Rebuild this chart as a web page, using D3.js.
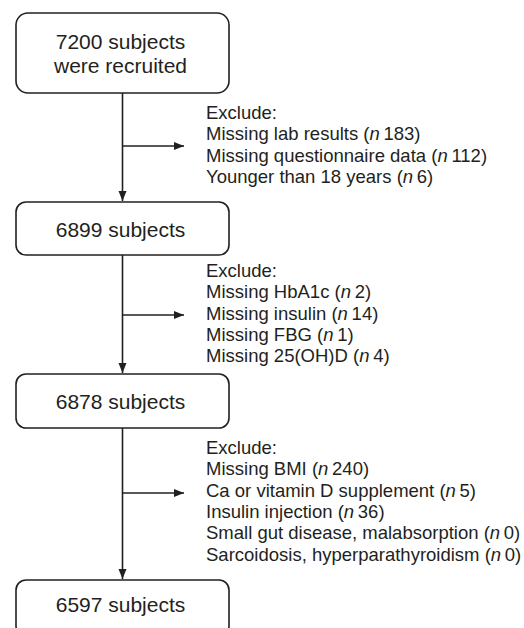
<!DOCTYPE html>
<html><head><meta charset="utf-8">
<script src="https://cdn.jsdelivr.net/npm/d3@7"></script>
<style>body{margin:0;background:#fff}svg{display:block}</style>
</head><body>
<svg id="c" width="524" height="628"></svg>
<script>
// Data
const boxLabels = [["7200 subjects", "were recruited"], ["6899 subjects"], ["6878 subjects"], ["6597 subjects"]];
const exclusionGroups = [
  [["Missing lab results", "183"], ["Missing questionnaire data", "112"], ["Younger than 18 years", "6"]],
  [["Missing HbA1c", "2"], ["Missing insulin", "14"], ["Missing FBG", "1"], ["Missing 25(OH)D", "4"]],
  [["Missing BMI", "240"], ["Ca or vitamin D supplement", "5"], ["Insulin injection", "36"], ["Small gut disease, malabsorption", "0"], ["Sarcoidosis, hyperparathyroidism", "0"]]
];
const excludeHeader = "Exclude:";

// Layout
const svg = d3.select("#c");
const ink = "#231f20";
const boxTop = [13, 202, 374, 580];
const boxH = [80, 53, 54, 56];
const boxX0 = 16, boxX1 = 229, cx = 122.5, textCx = 120.5;
const branchY = [146, 315, 493];
const headerY = [119, 277, 454];
const lineStep = 21.3;
const textX = 206;
const fontFam = "'Liberation Sans', Arial, Helvetica, sans-serif";

const defs = svg.append("defs");
defs.append("marker").attr("id", "ah").attr("viewBox", "0 0 10 10")
  .attr("refX", 10).attr("refY", 5).attr("markerWidth", 10).attr("markerHeight", 10)
  .attr("markerUnits", "userSpaceOnUse").attr("orient", "auto")
  .append("path").attr("d", "M0,1 L10,5 L0,9 Z").attr("fill", ink);

// Boxes
const boxes = svg.selectAll("g.box").data(boxLabels).join("g").attr("class", "box");
boxes.append("rect")
  .attr("x", boxX0).attr("y", (d, i) => boxTop[i])
  .attr("width", boxX1 - boxX0).attr("height", (d, i) => boxH[i])
  .attr("rx", (d, i) => i === 0 ? 12 : 10)
  .attr("fill", "#fff").attr("stroke", ink).attr("stroke-width", 1.6);
boxes.each(function (d, i) {
  const g = d3.select(this);
  const mid = boxTop[i] + boxH[i] / 2 + (i === 3 ? -4 : 0);
  const n = d.length, lh = 24;
  d.forEach((t, j) => {
    g.append("text").attr("x", textCx).attr("y", mid + (j - (n - 1) / 2) * lh + 8)
      .attr("text-anchor", "middle").attr("font-family", fontFam).attr("font-size", 21)
      .attr("fill", ink).text(t);
  });
});

// Vertical connectors
for (let i = 0; i < 3; i++) {
  svg.append("line").attr("x1", cx).attr("x2", cx)
    .attr("y1", boxTop[i] + boxH[i]).attr("y2", boxTop[i + 1] - 1)
    .attr("stroke", ink).attr("stroke-width", 1.6).attr("marker-end", "url(#ah)");
  svg.append("line").attr("x1", cx).attr("x2", 184)
    .attr("y1", branchY[i]).attr("y2", branchY[i])
    .attr("stroke", ink).attr("stroke-width", 1.6).attr("marker-end", "url(#ah)");
}

// Exclusion text
exclusionGroups.forEach((grp, gi) => {
  const g = svg.append("g").attr("font-family", fontFam).attr("font-size", 18.5).attr("fill", ink);
  g.append("text").attr("x", textX).attr("y", headerY[gi]).text(excludeHeader);
  grp.forEach((item, j) => {
    const t = g.append("text").attr("x", textX).attr("y", headerY[gi] + (j + 1) * lineStep);
    t.append("tspan").text(item[0] + " (");
    t.append("tspan").attr("font-style", "italic").text("n");
    t.append("tspan").text("\u2009" + item[1] + ")");
  });
});
</script>
</body></html>
